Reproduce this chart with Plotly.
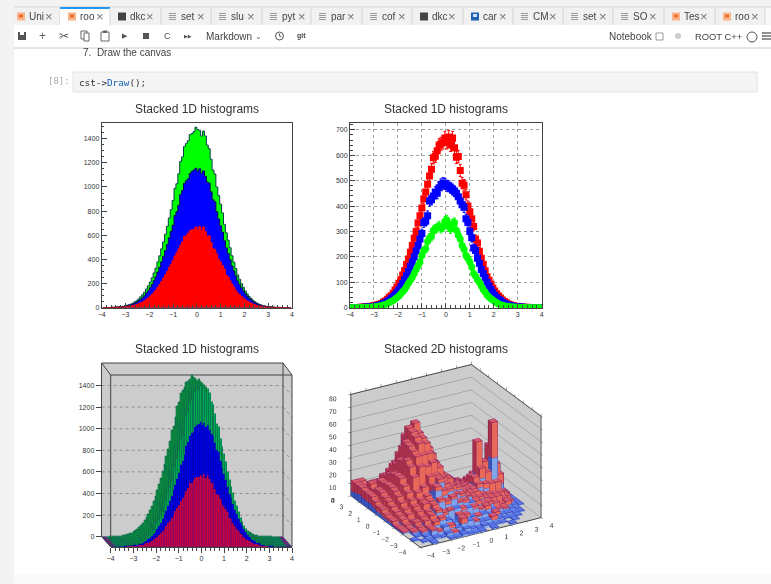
import numpy as np
import plotly.graph_objects as go

W, H = 771, 584
def X(p): return p / W
def Y(p): return 1 - p / H

# ---------- 1D histograms (100 bins, -4..4) ----------
red = [0,0,1,1,1,2,2,3,3,5,6,5,9,10,12,14,17,22,26,33,41,47,57,70,81,96,110,129,146,170,192,218,245,273,300,333,362,392,428,455,486,518,545,590,596,618,640,645,650,668,
       650,672,640,668,630,592,595,540,490,482,445,400,378,350,320,270,255,222,195,170,145,122,108,92,78,66,55,46,38,30,24,19,15,12,9,8,5,4,3,3,2,1,2,1,0,1,0,0,0,0]
blue = [0,0,0,0,1,1,1,2,2,3,3,4,5,7,8,10,13,16,19,24,29,36,42,51,60,70,82,95,110,126,142,162,180,200,224,245,270,292,335,340,362,420,425,440,455,450,472,485,490,487,
        480,478,472,465,458,450,437,420,405,395,350,335,300,275,235,225,195,175,150,135,118,100,85,72,60,48,40,32,27,21,17,14,11,8,7,5,4,3,3,2,2,1,1,1,1,0,0,0,0,0]
green = [0,0,0,0,0,1,1,1,1,2,2,3,4,4,5,7,8,11,13,16,20,24,28,34,40,46,55,64,72,83,96,108,120,135,150,165,180,205,225,232,262,275,280,305,310,315,322,312,318,340,
         345,320,310,330,335,305,285,270,245,230,205,195,180,160,135,125,110,100,85,72,62,50,42,35,30,24,19,15,12,10,8,6,5,4,3,3,2,2,1,1,1,1,0,0,0,0,0,0,0,0]
bins = np.arange(-3.96, 4, 0.08)[:100]
s1 = np.array(red); s2 = s1 + np.array(blue); s3 = s2 + np.array(green)

# ---------- 2D histograms (20x20 bins); rows run y=-3.8 .. 3.8 ----------
blue2d = [
 [0,0,1,0,0,1,1,2,1,1,1,0,1,0,0,1,0,0,0,0],
 [0,1,1,2,1,3,2,1,3,2,1,2,1,1,1,0,1,0,0,0],
 [1,0,2,5,3,6,4,3,5,6,4,3,3,2,2,1,1,1,0,0],
 [0,1,3,4,6,9,8,5,9,7,6,5,6,4,3,2,2,1,1,0],
 [0,2,3,6,8,13,10,12,13,10,11,9,7,6,5,4,3,2,1,0],
 [1,2,4,5,8,14,18,15,18,14,13,12,9,8,7,5,4,3,2,1],
 [1,2,3,6,9,13,25,20,22,18,16,14,11,10,9,7,5,4,2,1],
 [1,3,4,6,8,12,22,28,24,20,19,15,12,11,10,8,6,5,3,1],
 [2,3,4,7,9,11,18,20,19,21,17,16,13,12,14,12,9,8,3,1],
 [2,3,5,6,8,9,12,16,17,16,15,14,12,11,15,18,14,32,10,1],
 [2,4,6,7,8,9,11,13,14,13,12,11,10,9,13,20,16,22,14,1],
 [3,5,7,8,9,9,10,11,11,10,9,9,8,7,9,12,13,14,9,1],
 [3,5,8,8,8,9,9,9,8,8,7,7,6,6,7,8,7,6,4,1],
 [4,6,7,8,7,8,7,7,6,6,5,5,5,4,4,5,4,3,2,0],
 [5,6,7,7,6,6,6,5,5,4,4,4,3,3,3,2,2,2,1,0],
 [5,5,8,6,5,5,4,4,4,3,3,3,2,2,2,1,1,1,0,0],
 [5,7,6,7,4,4,3,3,3,2,2,2,1,1,1,1,0,0,0,0],
 [6,5,6,4,4,3,2,2,2,2,1,1,1,1,0,0,0,0,0,0],
 [5,4,4,3,3,2,2,1,1,1,1,0,0,0,0,0,0,0,0,0],
 [4,3,3,2,2,1,1,1,1,0,0,0,0,0,0,0,0,0,0,0],
]
red2d = [
 [0,0,0,0,0,0,0,0,0,0,0,0,0,0,0,0,0,0,0,0],
 [0,0,0,0,0,0,1,0,0,0,0,0,0,0,0,0,0,0,0,0],
 [0,0,0,1,1,0,2,0,4,0,1,0,0,3,0,0,0,0,0,0],
 [0,0,1,2,3,2,0,0,1,2,0,1,0,0,2,0,0,0,0,0],
 [0,1,2,3,4,2,2,1,0,2,0,2,1,3,0,1,1,0,0,0],
 [1,1,3,5,5,3,2,3,2,1,2,0,3,1,2,2,1,3,0,0],
 [1,2,3,6,8,5,3,4,2,1,2,1,2,2,1,2,4,2,1,0],
 [1,3,5,8,10,8,5,3,2,3,2,1,2,3,1,2,3,4,2,0],
 [2,4,7,10,13,14,14,12,10,6,3,2,2,2,3,4,6,7,3,0],
 [2,5,9,15,24,30,26,24,18,9,6,4,4,3,5,8,8,28,8,1],
 [3,6,11,17,30,36,34,32,22,14,8,6,4,4,6,25,12,18,10,1],
 [4,7,12,20,32,38,42,40,30,19,11,9,6,5,6,6,8,9,7,1],
 [4,8,12,20,30,40,46,44,36,24,15,11,7,4,4,4,5,4,3,1],
 [5,9,13,19,30,42,50,48,38,26,18,12,8,5,3,3,2,2,1,0],
 [6,9,12,18,26,38,52,56,40,28,20,13,8,4,3,2,1,1,0,0],
 [6,8,11,16,24,32,46,42,34,26,18,11,6,3,2,1,1,0,0,0],
 [6,9,10,13,19,24,30,32,26,20,13,8,4,2,1,1,0,0,0,0],
 [6,6,8,10,13,16,20,18,15,11,7,4,2,1,1,0,0,0,0,0],
 [7,6,7,7,8,9,10,9,7,5,3,2,1,0,0,0,0,0,0,0],
 [8,9,5,5,4,4,4,3,2,2,1,1,0,0,0,0,0,0,0,0],
]

# ---------- notebook chrome texts ----------
tab_names = ["Uni","roo","dkc","set","slu","pyt","par","cof","dkc","car","CM","set","SO","Tes","roo"]
tab_edges = [14,60,110,161,211,262,311,362,412,463,513,563,613,664,715,765]
tab_kinds = ["nb","nb","term","txt","txt","txt","txt","txt","term","img","txt","txt","txt","nb","nb"]
TITLE_1D = "Stacked 1D histograms"
TITLE_2D = "Stacked 2D histograms"

FONT = "Liberation Sans"
AX = "#444444"
TICK = dict(family=FONT, size=7, color="#333333")

shapes, notes = [], []
def rect(x0, y0, x1, y1, fill, line=None, lw=0, layer="below"):
    shapes.append(dict(type="rect", xref="paper", yref="paper", x0=X(x0), x1=X(x1), y0=Y(y0), y1=Y(y1),
                       fillcolor=fill, line=dict(color=line or fill, width=lw), layer=layer))
def seg(x0, y0, x1, y1, color=AX, w=1, dash="solid", layer="below"):
    shapes.append(dict(type="line", xref="paper", yref="paper", x0=X(x0), x1=X(x1), y0=Y(y0), y1=Y(y1),
                       line=dict(color=color, width=w, dash=dash), layer=layer))
def poly(pts, fill):
    d = "M " + " L ".join(f"{X(a):.5f},{Y(b):.5f}" for a, b in pts) + " Z"
    shapes.append(dict(type="path", xref="paper", yref="paper", path=d, fillcolor=fill, line=dict(width=0), layer="below"))
def note(x, y, text, size=10, color="#444444", anchor="left", family=FONT):
    notes.append(dict(x=X(x), y=Y(y), xref="paper", yref="paper", text=text, showarrow=False, xanchor=anchor,
                      yanchor="middle", font=dict(family=family, size=size, color=color), xshift=0, yshift=0, borderpad=0))

# page background
rect(0, 0, W, 7, "#f3f3f3")
rect(0, 0, 14, H, "#f3f3f3")
rect(14, 574, W, H, "#fafafa")
rect(14, 8, 765, 25, "#f1f1f1")
rect(765, 8, W, 25, "#f8f8f8")
seg(14, 7, W, 7, "#cfcfcf", 1)
seg(14, 48, W, 48, "#cccccc", 1)
rect(73, 72, 757, 92, "#f5f5f5", "#e2e2e2", 1)

# tabs
for i, nm in enumerate(tab_names):
    a, b = tab_edges[i], tab_edges[i + 1]
    if i == 1:
        rect(a, 8, b, 25, "#ffffff")
        seg(a, 8, b, 8, "#2196f3", 2)
    seg(b, 8, b, 25, "#d5d5d5", 1)
    k = tab_kinds[i]
    off = a - 5 if i == 0 else a
    ix = off + 8
    if k == "nb":
        rect(ix, 12.5, ix + 8, 20.5, "#f9b48a")
        rect(ix + 2, 14.5, ix + 6, 17.5, "#ee6c2b")
    elif k == "term":
        rect(ix, 12.5, ix + 8, 20.5, "#444444")
    elif k == "img":
        rect(ix, 12.5, ix + 8, 20.5, "#1f5fb4")
        rect(ix + 2, 14, ix + 6, 17, "#cfe0f5")
    else:
        for dy in (13.5, 15.5, 17.5, 19.5):
            seg(ix, dy, ix + 7, dy, "#9a9a9a", 1)
    note(off + 19, 17, nm, 10, "#444444")
    note(off + 35, 17, "×", 13, "#777777")

# toolbar
rect(18, 32, 26, 40, "#555555")
rect(20, 32, 24, 35, "#ffffff")
note(42, 36, "+", 12, "#666666", "center")
note(64, 36, "✂", 12, "#555555", "center", "DejaVu Sans")
rect(81, 31, 87, 39, "#ffffff", "#666666", 1)
rect(84, 33, 89, 41, "#ffffff", "#666666", 1)
rect(101, 32, 109, 41, "#ffffff", "#666666", 1)
rect(103, 30.5, 107, 33, "#666666")
note(125, 36, "▶", 7, "#555555", "center", "DejaVu Sans")
rect(143, 33, 149, 39, "#555555")
note(167, 36, "C", 9, "#555555", "center")
note(188, 36, "▶▶", 5, "#555555", "center", "DejaVu Sans")
note(205, 36.5, "Markdown", 10, "#444444")
note(258, 36, "⌄", 8, "#666666", "center", "DejaVu Sans")
shapes.append(dict(type="circle", xref="paper", yref="paper", x0=X(275.5), x1=X(283.5), y0=Y(32), y1=Y(40),
                   line=dict(color="#555555", width=1), layer="below"))
seg(279.5, 33.5, 279.5, 36, "#555555", 1); seg(279.5, 36, 281.5, 37, "#555555", 1)
note(296, 35.5, "<b>git</b>", 7, "#444444")
note(608, 36.5, "Notebook", 10, "#444444")
rect(656, 33, 663, 40, "#ffffff", "#999999", 1)
shapes.append(dict(type="circle", xref="paper", yref="paper", x0=X(675), x1=X(681), y0=Y(33), y1=Y(39),
                   fillcolor="#cccccc", line=dict(width=0), layer="below"))
note(694, 36.5, "ROOT C++", 9.4, "#444444")
shapes.append(dict(type="circle", xref="paper", yref="paper", x0=X(747), x1=X(757), y0=Y(32), y1=Y(42),
                   line=dict(color="#555555", width=1), layer="below"))
for dy in (33, 36, 39):
    seg(762, dy, 771, dy, "#555555", 1.3)

# notebook cell text
note(82, 52, "7.  Draw the canvas", 10, "#444444")
note(47, 81, "[8]:", 9, "#aaaaaa", "left", "DejaVu Sans Mono")
note(78, 82, 'cst-&gt;<span style="color:#1560b0">Draw</span>();', 9.3, "#333333", "left", "DejaVu Sans Mono")

# titles
for cx, cy, t in [(196.7, 108.5, TITLE_1D), (445.8, 108.5, TITLE_1D), (196.7, 349, TITLE_1D), (445.8, 349, TITLE_2D)]:
    note(cx, cy, t, 12, "#333333", "center")

fig = go.Figure()

def frame_axes(xdom, ydom, yr, ydt, ymin, grid=False):
    gridkw = dict(showgrid=grid, gridcolor="#a0a0a0", griddash="dot", gridwidth=0.7)
    xa = dict(domain=[X(xdom[0]), X(xdom[1])], range=[-4, 4], dtick=1, ticks="inside", ticklen=5, tickcolor=AX,
              showline=True, mirror=True, linecolor=AX, linewidth=1, tickfont=TICK, zeroline=False,
              minor=dict(ticks="inside", dtick=0.2, ticklen=2.5, tickcolor=AX, showgrid=False), **gridkw)
    ya = dict(domain=[Y(ydom[1]), Y(ydom[0])], range=yr, dtick=ydt, ticks="inside", ticklen=5, tickcolor=AX,
              showline=True, mirror=True, linecolor=AX, linewidth=1, tickfont=TICK, zeroline=False,
              minor=dict(ticks="inside", dtick=ymin, ticklen=2.5, tickcolor=AX, showgrid=False), **gridkw)
    return xa, ya

# ---- top-left: filled stack ----
xa, ya = frame_axes((101.7, 292), (123, 307.7), [0, 1530], 200, 50)
layout_axes = {"xaxis": dict(xa, anchor="y"), "yaxis": dict(ya, anchor="x")}
for vals, col, lc in [(s3, "#00ff00", "#0b3d4a"), (s2, "#0000ff", "#06065a"), (s1, "#ff0000", "#ff0000")]:
    fig.add_trace(go.Scatter(x=bins, y=vals, mode="lines", line=dict(shape="hvh", color=lc, width=1),
                             fill="tozeroy", fillcolor=col, xaxis="x", yaxis="y", showlegend=False))

# ---- top-right: markers with errors ----
xa, ya = frame_axes((350, 541.7), (123, 307.7), [0, 727], 100, 20, grid=True)
layout_axes["xaxis2"] = dict(xa, anchor="y2")
layout_axes["yaxis2"] = dict(ya, anchor="x2")
for vals, col, sym in [(red, "#ff0000", "square"), (blue, "#0000ff", "square"), (green, "#00ff00", "circle")]:
    fig.add_trace(go.Scatter(x=bins, y=vals, mode="markers", marker=dict(color=col, size=7, symbol=sym),
                             error_y=dict(type="sqrt", color=col, thickness=1, width=1.5),
                             xaxis="x2", yaxis="y2", showlegend=False, cliponaxis=True))

# ---- bottom-left: oblique lego built from shifted layers ----
SX, SY = 9.0, 10.3
PX_PER = 0.108
poly([(101.7, 363), (283, 363), (292, 375), (292, 547), (110.7, 547), (101.7, 536.7)], "#cccccc")
poly([(101.7, 536.7), (283, 536.7), (292, 547), (110.7, 547)], "#0b7d52")
poly([(101.7, 536.7), (106, 536.7), (116, 547), (110.7, 547)], "#7a1a80")
poly([(279, 536.7), (283, 536.7), (292, 547), (287, 547)], "#7a1a80")
grid_vals = [0, 200, 400, 600, 800, 1000, 1200, 1400]
for v in grid_vals[1:]:
    py = 536.7 - v * PX_PER
    seg(101.7, py, 283, py, "#777777", 0.7, "dot")
    seg(283, py, 292, py + SY, "#777777", 0.7, "dot")
for a in [(101.7, 363, 283, 363), (101.7, 363, 110.7, 375), (110.7, 375, 292, 375), (283, 363, 292, 375),
          (110.7, 375, 110.7, 547), (283, 363, 283, 536.7), (292, 375, 292, 547), (101.7, 536.7, 110.7, 547)]:
    seg(*a, AX, 1)

layers = [1.0, 0.8, 0.6, 0.4, 0.2, 0.0]
for n, t in enumerate(layers):
    ax_id = n + 3
    x0 = 110.7 - SX * t; x1 = 292 - SX * t
    yb = 547 - SY * t; yt = 363
    yr = [0, (yb - yt) / PX_PER]
    front = t == 0.0
    back = t == 1.0
    layout_axes[f"xaxis{ax_id}"] = dict(domain=[X(x0), X(x1)], range=[-4, 4], anchor=f"y{ax_id}", dtick=1,
        showgrid=False, zeroline=False, tickfont=TICK, showticklabels=front, ticks="outside" if front else "",
        ticklen=5, tickcolor=AX, showline=front, linecolor=AX,
        minor=dict(ticks="outside" if front else "", dtick=0.2, ticklen=3, tickcolor=AX))
    layout_axes[f"yaxis{ax_id}"] = dict(domain=[Y(yb), Y(yt)], range=yr, anchor=f"x{ax_id}", tickmode="array",
        tickvals=grid_vals, showgrid=False, zeroline=False, tickfont=TICK, showticklabels=back, ticks="outside" if back else "",
        ticklen=5, tickcolor=AX, showline=back, linecolor=AX)
    if not front:
        fig.add_trace(go.Bar(x=bins, y=s3, width=0.08, marker=dict(color="#0a8a3a", line=dict(color="#0b5f55", width=0.3)),
                             xaxis=f"x{ax_id}", yaxis=f"y{ax_id}", showlegend=False))
    else:
        for vals, col, lc in [(red, "#c8003c", "#7a0a70"), (blue, "#0000e0", "#0000b0"), (green, "#00a84f", "#0b5f55")]:
            fig.add_trace(go.Bar(x=bins, y=vals, width=0.08, marker=dict(color=col, line=dict(color=lc, width=0.4)),
                                 xaxis=f"x{ax_id}", yaxis=f"y{ax_id}", showlegend=False))

# ---- bottom-right: 3D stacked lego ----
edges = np.linspace(-4, 4, 21)
def boxes(base, height, top_c, lit_c, dark_c):
    vx, vy, vz, I, J, K, fc = [], [], [], [], [], [], []
    lx, ly, lz = [], [], []
    for j in range(20):
        for i in range(20):
            h = height[j][i]
            if h <= 0:
                continue
            z0 = base[j][i]; z1 = z0 + h
            a, b, c, d = edges[i], edges[i + 1], edges[j], edges[j + 1]
            o = len(vx)
            vx += [a, b, b, a, a, b, b, a]; vy += [c, c, d, d, c, c, d, d]; vz += [z0] * 4 + [z1] * 4
            for tri, col in [((4, 5, 6), top_c), ((4, 6, 7), top_c),
                             ((0, 1, 5), lit_c), ((0, 5, 4), lit_c),
                             ((0, 3, 7), dark_c), ((0, 7, 4), dark_c)]:
                I.append(o + tri[0]); J.append(o + tri[1]); K.append(o + tri[2]); fc.append(col)
            lx += [a, b, b, a, a, None, a, a, None, b, b, None, a, a, None]
            ly += [c, c, d, d, c, None, c, c, None, c, c, None, d, d, None]
            lz += [z1, z1, z1, z1, z1, None, z0, z1, None, z0, z1, None, z0, z1, None]
    return vx, vy, vz, I, J, K, fc, lx, ly, lz

zero = [[0] * 20 for _ in range(20)]
for base, hh, cols, lc in [(zero, blue2d, ("#5a78e6", "#7fa4ea", "#3a55b8"), "#2020a0"),
                           (blue2d, red2d, ("#d85a6a", "#e8685a", "#a83048"), "#6a1060")]:
    vx, vy, vz, I, J, K, fc, lx, ly, lz = boxes(base, hh, *cols)
    fig.add_trace(go.Mesh3d(x=vx, y=vy, z=vz, i=I, j=J, k=K, facecolor=fc, flatshading=True,
                            lighting=dict(ambient=1, diffuse=0, specular=0, fresnel=0, roughness=1),
                            hoverinfo="skip", showscale=False, scene="scene"))
    fig.add_trace(go.Scatter3d(x=lx, y=ly, z=lz, mode="lines", line=dict(color=lc, width=1), hoverinfo="skip",
                               showlegend=False, scene="scene"))

def ax3(rng, dt, grid):
    return dict(range=rng, dtick=dt, title=dict(text=""), tickfont=dict(family=FONT, size=9, color="#333333"),
                tickangle=0, showbackground=True, backgroundcolor="#cccccc", showgrid=grid, gridcolor="#888888", gridwidth=1,
                showline=True, linecolor="#444444", linewidth=2, mirror="all", zeroline=False, ticks="outside",
                ticklen=3, tickcolor="#444444", showspikes=False, autorange=False)

el = np.radians(25.4); az = np.radians(30); R = 2.75
AS = 1.2
scene = dict(domain=dict(x=[X(325.5), X(565.5)], y=[Y(571.5), Y(339.5)]),
             xaxis=ax3([-4, 4], 1, False), yaxis=ax3([-4, 4], 1, False), zaxis=ax3([0, 80], 10, True),
             aspectmode="manual", aspectratio=dict(x=AS, y=AS, z=0.807 * AS),
             camera=dict(eye=dict(x=-R*np.cos(el)*np.sin(az), y=-R*np.cos(el)*np.cos(az), z=R*np.sin(el)),
                         up=dict(x=0, y=0, z=1), center=dict(x=0, y=0, z=0),
                         projection=dict(type="orthographic")))

fig.update_layout(width=W, height=H, margin=dict(l=0, r=0, t=0, b=0, autoexpand=False), paper_bgcolor="#ffffff",
                  plot_bgcolor="rgba(0,0,0,0)", showlegend=False, barmode="stack", bargap=0,
                  shapes=shapes, annotations=notes, scene=scene, font=dict(family=FONT), **layout_axes)
fig.write_html("out.html", post_script="document.body.style.margin='0';document.body.style.overflow='hidden';",
               config=dict(displayModeBar=False))
